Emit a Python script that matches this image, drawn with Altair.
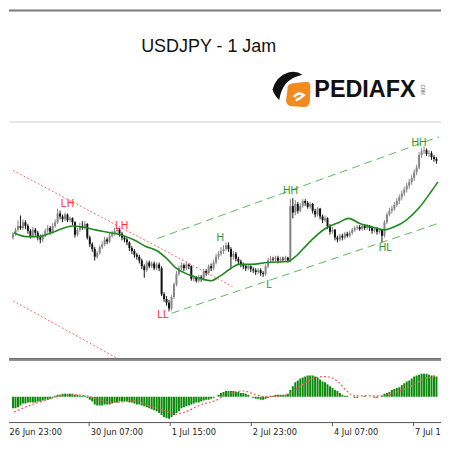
import altair as alt
import pandas as pd

W = 434
H_HEAD, H_MAIN, H_OSC, H_AX = 113, 239, 64, 15
X_DOM = [0.379, 170.83]
Y_MAIN = [100.0, 102.48]
Y_OSC = [-27.4, 38.9]

# ---------------- hourly candles (bar index 0 = 26 Jun 23:00) ----------------
open_ = [
    101.27, 101.31, 101.35, 101.39, 101.37, 101.43, 101.39, 101.34, 101.29, 101.35,
    101.32, 101.27, 101.25, 101.29, 101.34, 101.37, 101.33, 101.39, 101.43, 101.52,
    101.49, 101.46, 101.51, 101.45, 101.47, 101.43, 101.30, 101.35, 101.39, 101.37,
    101.41, 101.27, 101.20, 101.15, 101.07, 101.11, 101.17, 101.20, 101.25, 101.23,
    101.29, 101.31, 101.34, 101.35, 101.31, 101.27, 101.25, 101.22, 101.16, 101.13,
    101.09, 101.07, 101.03, 100.97, 100.93, 101.01, 100.97, 101.00, 100.95, 100.99,
    100.95, 100.68, 100.63, 100.59, 100.53, 100.65, 100.78, 100.89, 100.95, 100.98,
    100.95, 100.99, 100.97, 100.84, 100.85, 100.82, 100.86, 100.84, 100.92, 100.90,
    100.97, 100.95, 101.01, 101.07, 101.10, 101.13, 101.15, 101.19, 101.15, 101.07,
    101.10, 101.05, 101.02, 100.99, 100.97, 100.95, 100.97, 100.94, 100.93, 100.91,
    100.93, 100.90, 100.89, 100.97, 101.03, 101.05, 101.04, 101.06, 101.03, 101.05,
    101.04, 101.06, 101.03, 101.60, 101.53, 101.62, 101.55, 101.60, 101.65, 101.63,
    101.59, 101.62, 101.55, 101.51, 101.57, 101.49, 101.45, 101.47, 101.39, 101.33,
    101.35, 101.27, 101.25, 101.29, 101.27, 101.31, 101.29, 101.32, 101.35, 101.37,
    101.38, 101.36, 101.39, 101.37, 101.39, 101.37, 101.34, 101.36, 101.33, 101.35,
    101.29, 101.43, 101.51, 101.55, 101.57, 101.61, 101.65, 101.69, 101.73, 101.77,
    101.81, 101.85, 101.89, 101.95, 102.00, 102.13, 102.17, 102.18, 102.14, 102.15,
    102.11, 102.09,
]
high = [
    101.33, 101.37, 101.45, 101.50, 101.46, 101.45, 101.41, 101.36, 101.38, 101.37,
    101.34, 101.30, 101.31, 101.36, 101.40, 101.39, 101.42, 101.46, 101.57, 101.55,
    101.51, 101.53, 101.52, 101.49, 101.48, 101.44, 101.37, 101.42, 101.44, 101.44,
    101.42, 101.29, 101.22, 101.17, 101.13, 101.19, 101.23, 101.28, 101.27, 101.32,
    101.34, 101.37, 101.38, 101.37, 101.33, 101.29, 101.27, 101.23, 101.18, 101.15,
    101.11, 101.09, 101.05, 100.99, 101.03, 101.03, 101.02, 101.02, 101.01, 101.01,
    100.97, 100.70, 100.66, 100.62, 100.67, 100.80, 100.92, 100.98, 101.01, 101.00,
    101.02, 101.00, 100.98, 100.88, 100.87, 100.88, 100.88, 100.94, 100.94, 100.99,
    101.00, 101.04, 101.10, 101.13, 101.17, 101.19, 101.22, 101.22, 101.17, 101.13,
    101.12, 101.07, 101.04, 101.01, 100.99, 100.99, 100.98, 100.96, 100.95, 100.95,
    100.95, 100.92, 100.99, 101.06, 101.08, 101.07, 101.08, 101.08, 101.07, 101.07,
    101.08, 101.07, 101.67, 101.68, 101.66, 101.64, 101.63, 101.67, 101.67, 101.65,
    101.64, 101.63, 101.57, 101.59, 101.58, 101.51, 101.50, 101.48, 101.41, 101.38,
    101.36, 101.29, 101.31, 101.31, 101.33, 101.33, 101.34, 101.37, 101.39, 101.40,
    101.40, 101.41, 101.41, 101.41, 101.40, 101.39, 101.38, 101.38, 101.37, 101.36,
    101.45, 101.53, 101.58, 101.60, 101.64, 101.68, 101.72, 101.76, 101.80, 101.84,
    101.88, 101.92, 101.98, 102.03, 102.16, 102.20, 102.22, 102.20, 102.18, 102.17,
    102.13, 102.11,
]
low = [
    101.25, 101.29, 101.33, 101.35, 101.35, 101.36, 101.31, 101.26, 101.27, 101.29,
    101.24, 101.21, 101.22, 101.27, 101.32, 101.30, 101.31, 101.37, 101.41, 101.46,
    101.43, 101.44, 101.43, 101.43, 101.40, 101.27, 101.28, 101.33, 101.35, 101.35,
    101.25, 101.17, 101.12, 101.03, 101.05, 101.09, 101.15, 101.18, 101.20, 101.21,
    101.27, 101.29, 101.31, 101.28, 101.24, 101.22, 101.19, 101.13, 101.10, 101.06,
    101.04, 101.00, 100.94, 100.85, 100.91, 100.95, 100.95, 100.93, 100.93, 100.92,
    100.66, 100.60, 100.56, 100.50, 100.51, 100.63, 100.76, 100.87, 100.93, 100.92,
    100.93, 100.94, 100.82, 100.81, 100.80, 100.80, 100.81, 100.82, 100.87, 100.88,
    100.92, 100.93, 100.99, 101.04, 101.08, 101.10, 101.13, 101.12, 100.95, 101.04,
    101.02, 100.99, 100.96, 100.94, 100.92, 100.93, 100.91, 100.90, 100.88, 100.89,
    100.87, 100.86, 100.87, 100.95, 101.01, 101.02, 101.02, 101.00, 101.01, 101.02,
    101.02, 101.01, 101.01, 101.47, 101.50, 101.52, 101.53, 101.58, 101.60, 101.57,
    101.57, 101.52, 101.48, 101.49, 101.46, 101.42, 101.43, 101.36, 101.30, 101.31,
    101.24, 101.22, 101.23, 101.24, 101.25, 101.27, 101.27, 101.30, 101.33, 101.35,
    101.34, 101.34, 101.35, 101.35, 101.34, 101.31, 101.32, 101.30, 101.31, 101.22,
    101.27, 101.41, 101.49, 101.52, 101.55, 101.59, 101.62, 101.66, 101.70, 101.74,
    101.78, 101.82, 101.86, 101.92, 101.98, 102.10, 102.14, 102.12, 102.11, 102.08,
    102.06, 102.04,
]
close = [
    101.31, 101.35, 101.39, 101.37, 101.43, 101.39, 101.34, 101.29, 101.35, 101.32,
    101.27, 101.25, 101.29, 101.34, 101.37, 101.33, 101.39, 101.43, 101.52, 101.49,
    101.46, 101.51, 101.45, 101.47, 101.43, 101.30, 101.35, 101.39, 101.37, 101.41,
    101.27, 101.20, 101.15, 101.07, 101.11, 101.17, 101.20, 101.25, 101.23, 101.29,
    101.31, 101.34, 101.35, 101.31, 101.27, 101.25, 101.22, 101.16, 101.13, 101.09,
    101.07, 101.03, 100.97, 100.93, 101.01, 100.97, 101.00, 100.95, 100.99, 100.95,
    100.68, 100.63, 100.59, 100.53, 100.65, 100.78, 100.89, 100.95, 100.98, 100.95,
    100.99, 100.97, 100.84, 100.85, 100.82, 100.86, 100.84, 100.92, 100.90, 100.97,
    100.95, 101.01, 101.07, 101.10, 101.13, 101.15, 101.19, 101.15, 101.07, 101.10,
    101.05, 101.02, 100.99, 100.97, 100.95, 100.97, 100.94, 100.93, 100.91, 100.93,
    100.90, 100.89, 100.97, 101.03, 101.05, 101.04, 101.06, 101.03, 101.05, 101.04,
    101.06, 101.03, 101.60, 101.53, 101.62, 101.55, 101.60, 101.65, 101.63, 101.59,
    101.62, 101.55, 101.51, 101.57, 101.49, 101.45, 101.47, 101.39, 101.33, 101.35,
    101.27, 101.25, 101.29, 101.27, 101.31, 101.29, 101.32, 101.35, 101.37, 101.38,
    101.36, 101.39, 101.37, 101.39, 101.37, 101.34, 101.36, 101.33, 101.35, 101.29,
    101.43, 101.51, 101.55, 101.57, 101.61, 101.65, 101.69, 101.73, 101.77, 101.81,
    101.85, 101.89, 101.95, 102.00, 102.13, 102.17, 102.18, 102.14, 102.15, 102.11,
    102.09, 102.07,
]

# moving average (green line)
ma_idx = [0.4, 5.3, 10.6, 15.5, 24.2, 28, 33.3, 39.4, 43.2, 48.5, 53.4, 58.3, 62.1,
          65.9, 71.2, 76.1, 79.9, 83.7, 87.5, 91.3, 96.2, 102.7, 111, 114, 117.8,
          121.6, 126.5, 131.8, 135.6, 139.8, 145.1, 150, 153.8, 158.7, 164, 168.9, 171.6]
ma_val = [101.32, 101.28, 101.28, 101.32, 101.39, 101.38, 101.35, 101.32, 101.30,
          101.25, 101.18, 101.13, 101.05, 100.95, 100.88, 100.84, 100.82, 100.87,
          100.94, 100.99, 100.99, 101.01, 101.02, 101.07, 101.17, 101.27, 101.37,
          101.43, 101.47, 101.42, 101.38, 101.35, 101.38, 101.45, 101.58, 101.75, 101.85]

# trend channels
red_line = ["upper", "upper", "lower", "lower"]
red_idx = [0, 88.6, 0, 41.5]
red_px = [101.97, 100.76, 100.61, 100.02]
green_line = ["upper", "upper", "lower", "lower"]
green_idx = [58.3, 172, 64, 172]
green_px = [101.26, 102.32, 100.48, 101.42]

# swing labels
lab_txt = ["LH", "LH", "LL", "H", "L", "HH", "HL", "HH"]
lab_idx = [22, 43.9, 60.6, 83.7, 103.4, 112.1, 150.4, 164]
lab_px = [101.62, 101.39, 100.46, 101.27, 100.78, 101.75, 101.16, 102.26]
lab_col = ["#ff2e2e", "#ff2e2e", "#ff2e2e", "#2f962f", "#2f962f", "#2f962f", "#2f962f", "#2f962f"]

# oscillator histogram and signal
hist = [
    -12, -12, -11, -9, -7, -7, -6, -6, -6, -6,
    -5, -5, -4, -3, -3, -2, -1, 1, 2, 2,
    3, 3, 3, 3, 3, 2, 2, 1, 1, 1,
    -1, -3, -5, -8, -9, -9, -9, -8, -8, -8,
    -7, -6, -6, -5, -5, -5, -5, -6, -6, -7,
    -8, -8, -9, -10, -11, -12, -13, -14, -15, -17,
    -19, -21, -22, -23, -21, -19, -17, -15, -12, -11,
    -10, -9, -8, -7, -6, -6, -5, -4, -3, -3,
    -2, -1, 0, 2, 4, 5, 6, 6, 6, 6,
    5, 5, 4, 4, 3, 2, 0, -1, -2, -2,
    -3, -3, -2, -1, 1, 1, 2, 2, 2, 2,
    2, 3, 7, 11, 15, 17, 19, 20, 21, 22,
    22, 22, 21, 20, 18, 16, 15, 13, 11, 9,
    7, 6, 4, 2, 1, 1, 0, 0, -1, -1,
    0, 0, 1, 0, 0, 0, -1, -1, 0, 1,
    3, 4, 5, 7, 8, 9, 10, 12, 14, 16,
    17, 19, 21, 22, 23, 24, 24, 24, 23, 22,
    22, 21,
]
sig_idx = [0.38, 6.8, 12.9, 19.3, 24.2, 29.5, 34.5, 40.9, 48.5, 54.5, 61, 65.9, 69.3,
           76.1, 82.6, 85.6, 93.2, 98.1, 103.4, 111, 115.9, 122.3, 126.1, 131.1,
           134.8, 137.5, 148.9, 154.9, 161.4, 166.3, 170.8]
sig_val = [-16, -9, -4, 1, 2, 1, -3, -6, -4, -9, -14, -18, -16, -8, -3, 1.5, 6, 2, 0,
           2, 11, 20, 21, 16, 6, 1, 1, 5, 12, 19, 21]

tick_idx = [0, 32, 64, 96, 128, 160]
tick_lab = ["26 Jun 23:00", "30 Jun 07:00", "1 Jul 15:00", "2 Jul 23:00", "4 Jul 07:00", "7 Jul 15:00"]

# ---------------- frames ----------------
bars = pd.DataFrame({"i": list(range(len(close))), "o": open_, "h": high, "l": low, "c": close,
                     "hist": hist})
bars["dir"] = ["up" if c >= o else "down" for o, c in zip(open_, close)]
ma_df = pd.DataFrame({"i": ma_idx, "v": ma_val})
red_df = pd.DataFrame({"line": red_line, "i": red_idx, "v": red_px})
green_df = pd.DataFrame({"line": green_line, "i": green_idx, "v": green_px})
lab_df = pd.DataFrame({"t": lab_txt, "i": lab_idx, "v": lab_px, "col": lab_col})
sig_df = pd.DataFrame({"i": sig_idx, "v": sig_val})
tick_df = pd.DataFrame({"i": tick_idx, "lab": tick_lab})
one = pd.DataFrame({"k": [0]})

xs = alt.Scale(domain=X_DOM, nice=False, zero=False)
X = alt.X("i:Q", scale=xs, axis=None)
ys = alt.Scale(domain=Y_MAIN, nice=False, zero=False)
os_ = alt.Scale(domain=Y_OSC, nice=False, zero=False)


def hrule(y, color, w):
    return alt.Chart(one).mark_rule(color=color, strokeWidth=w).encode(
        x=alt.value(0), x2=alt.value(W), y=alt.value(y))


# ---------------- header ----------------
orange_path = ("M-0.8,-0.35 Q-0.85,-0.8 -0.4,-0.85 L0.55,-0.95 Q0.95,-1 0.95,-0.55 "
               "L0.9,0.55 Q0.85,0.95 0.45,0.95 L-0.45,0.9 Q-0.95,0.85 -0.9,0.4 Z")
wing_path = ("M-1,0.25 Q-0.75,-0.65 0.05,-0.9 Q0.6,-1.05 1,-0.75 Q0.3,-0.6 -0.1,-0.15 "
             "Q-0.45,0.3 -0.55,0.95 Q-0.85,0.7 -1,0.25 Z")
swirl_path = "M-0.55,0.15 Q0,-0.5 0.6,-0.05 Q0.2,0.35 -0.35,0.55"

header = alt.layer(
    hrule(1.5, "#7a7a7a", 2),
    alt.Chart(one).mark_text(text="USDJPY - 1 Jam", fontSize=18, font="Liberation Sans",
                             color="#111111", align="center", baseline="alphabetic").encode(
        x=alt.value(200.6), y=alt.value(42.9)),
    alt.Chart(one).mark_point(shape=orange_path, filled=True, color="#f28a1f", size=700,
                              opacity=1).encode(x=alt.value(290.3), y=alt.value(85.8)),
    alt.Chart(one).mark_point(shape=swirl_path, filled=False, color="#ffffff", size=300,
                              opacity=1, strokeWidth=2.5).encode(x=alt.value(291), y=alt.value(87)),
    alt.Chart(one).mark_point(shape=wing_path, filled=True, color="#111111", size=900,
                              opacity=1).encode(x=alt.value(279.7), y=alt.value(77.2)),
    alt.Chart(one).mark_text(text="PEDIAFX", fontSize=23.5, font="Liberation Sans",
                             fontWeight="bold", color="#111111", align="left",
                             baseline="alphabetic").encode(x=alt.value(306.7), y=alt.value(88.7)),
    alt.Chart(one).mark_text(text=".COM", fontSize=4.5, font="Liberation Sans", color="#555555",
                             angle=90, align="center", baseline="middle").encode(
        x=alt.value(415), y=alt.value(80.5)),
).properties(width=W, height=H_HEAD)

# ---------------- main price panel ----------------
col = alt.Color("dir:N", scale=alt.Scale(domain=["up", "down"], range=["#858585", "#111111"]),
                legend=None)
wick = alt.Chart(bars).mark_rule(strokeWidth=1, clip=True).encode(
    x=X, y=alt.Y("l:Q", scale=ys, axis=None), y2="h:Q", color=col)
body = alt.Chart(bars).mark_bar(size=2, clip=True).encode(
    x=X, y=alt.Y("o:Q", scale=ys, axis=None), y2="c:Q", color=col)
ma = alt.Chart(ma_df).mark_line(color="#1f8a1f", strokeWidth=1.6, interpolate="monotone",
                                clip=True).encode(x=X, y=alt.Y("v:Q", scale=ys, axis=None))
red = alt.Chart(red_df).mark_line(color="#ff6a6a", strokeWidth=1, strokeDash=[2, 2],
                                  clip=True).encode(
    x=X, y=alt.Y("v:Q", scale=ys, axis=None), detail="line:N")
green = alt.Chart(green_df).mark_line(color="#5cb85c", strokeWidth=1, strokeDash=[8, 5],
                                      clip=True).encode(
    x=X, y=alt.Y("v:Q", scale=ys, axis=None), detail="line:N")
labels = alt.Chart(lab_df).mark_text(fontSize=10.5, font="Liberation Sans", clip=True,
                                     baseline="middle").encode(
    x=X, y=alt.Y("v:Q", scale=ys, axis=None), text="t:N", color=alt.Color("col:N", scale=None))

main = alt.layer(
    wick, body, ma, red, green, labels,
    hrule(0.5, "#cfcfcf", 1),
    hrule(238.25, "#6e6e6e", 1.5),
).properties(width=W, height=H_MAIN)

# ---------------- oscillator ----------------
hbars = alt.Chart(bars).mark_bar(size=2, color="#0b8a0b", clip=True).encode(
    x=X, y=alt.Y("hist:Q", scale=os_, axis=None), y2=alt.datum(0))
sig = alt.Chart(sig_df).mark_line(color="#ff5a5a", strokeWidth=1.2, strokeDash=[2, 2],
                                  interpolate="monotone", clip=True).encode(
    x=X, y=alt.Y("v:Q", scale=os_, axis=None))
osc = alt.layer(
    hbars, sig,
    hrule(0.75, "#6e6e6e", 1.5),
    hrule(63.5, "#555555", 1),
).properties(width=W, height=H_OSC)

# ---------------- time labels ----------------
ticks = alt.Chart(tick_df).mark_rule(color="#555555", strokeWidth=1, clip=True).encode(
    x=X, y=alt.value(0), y2=alt.value(3))
tick_text = alt.Chart(tick_df).mark_text(align="left", baseline="alphabetic", dx=1.5,
                                         fontSize=8.3, font="DejaVu Sans", color="#222222",
                                         clip=True).encode(
    x=X, y=alt.value(12), text="lab:N")
strip = alt.layer(ticks, tick_text).properties(width=W, height=H_AX)

chart = alt.vconcat(header, main, osc, strip, spacing=0).properties(
    padding=0).configure_view(stroke=None)

chart.save("out.html", embed_options={"renderer": "svg", "actions": False})
